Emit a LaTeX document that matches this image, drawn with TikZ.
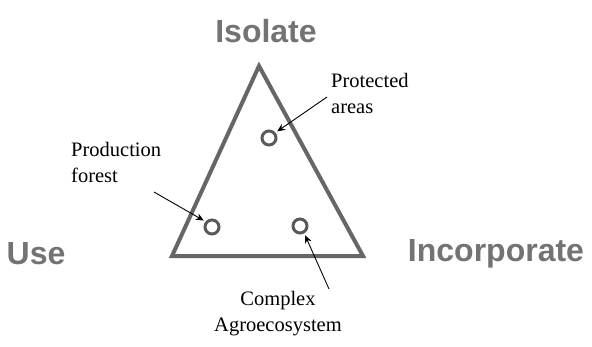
\documentclass[tikz,border=0pt]{standalone}
\usepackage{fontspec}
\setmainfont{Liberation Serif}
\newfontfamily\arialf{Liberation Sans}
\usetikzlibrary{arrows.meta}
\begin{document}
\begin{tikzpicture}[x=1pt,y=-1pt,
  big/.style={font=\arialf\bfseries\fontsize{32}{36}\selectfont, text=black!55, inner sep=0pt},
  small/.style={font=\fontsize{20.5}{26}\selectfont, inner sep=0pt, align=left},
  tri/.style={draw=black!60, line width=4pt, line join=miter},
  ring/.style={circle, draw=black!65, line width=3pt, minimum size=14pt, inner sep=0pt},
  pointer/.style={draw=black, line width=0.9pt, shorten >=2pt, -{Stealth[length=8pt,width=7pt]}}]
\useasboundingbox (0,0) rectangle (592,346);
\coordinate (A) at (259,66);
\coordinate (BL) at (172,256);
\coordinate (BR) at (363,256);
\draw[tri] (A) -- (BL) -- (BR) -- cycle;
\node[ring] (c1) at (269,138) {};
\node[ring] (c2) at (212,227) {};
\node[ring] (c3) at (300,226) {};
\node[big] (iso) at (266,31) {Isolate};
\node[big] (use) at (36,254) {Use};
\node[big] (inc) at (496,254) {Incorporate};
\node[small, anchor=north west] (prot) at (331,73) {Protected\\areas};
\node[small, anchor=north west] (prod) at (71,142) {Production\\forest};
\node[small, anchor=north, align=center] (cplx) at (278,291) {Complex\\Agroecosystem};
\coordinate (p1) at (327,97);
\coordinate (p2) at (154,192);
\coordinate (p3) at (329,289);
\draw[pointer] (p1) -- (c1.40);
\draw[pointer] (p2) -- (c2.140);
\draw[pointer] (p3) -- (c3.300);
\end{tikzpicture}
\end{document}
